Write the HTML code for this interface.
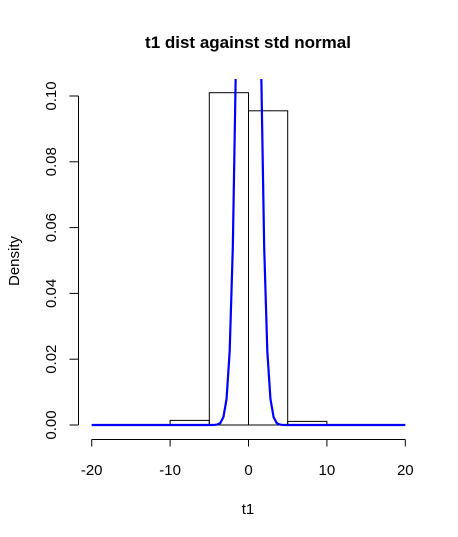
<!DOCTYPE html>
<html><head><meta charset="utf-8"><style>
body{margin:0;background:#fff}
svg{display:block;font-family:"Liberation Sans",Arial,sans-serif}
</style></head><body>
<svg width="458" height="537" viewBox="0 0 458 537">
<defs><clipPath id="pr"><rect x="79" y="79" width="339" height="360"/></clipPath></defs>
<text x="248" y="48" text-anchor="middle" font-size="17" font-weight="bold">t1 dist against std normal</text>
<g id="axes"></g>
<g id="bars"></g>
<g clip-path="url(#pr)"><path id="curve" fill="none" stroke="#0000ff" stroke-width="2.2"/></g>
<text x="248" y="514" text-anchor="middle" font-size="15">t1</text>
<text transform="translate(19,261) rotate(-90)" text-anchor="middle" font-size="15">Density</text>
</svg>
<script>
const binEdges=[-20,-15,-10,-5,0,5,10,15,20];
const densities=[0,0,0.0014,0.101,0.0955,0.0011,0,0];
const xTicks=[-20,-10,0,10,20];
const yTicks=[0,0.02,0.04,0.06,0.08,0.10];
const yTickLabels=["0.00","0.02","0.04","0.06","0.08","0.10"];
const NS="http://www.w3.org/2000/svg";
const xs=v=>248.5+v*7.84, ys=v=>425-v*3290;
function mk(t,a,p){const e=document.createElementNS(NS,t);for(const k in a)e.setAttribute(k,a[k]);p.appendChild(e);return e;}
const bars=document.getElementById('bars'), axes=document.getElementById('axes');
for(let i=0;i<densities.length;i++){
 if(densities[i]<=0)continue;
 const x0=xs(binEdges[i]),x1=xs(binEdges[i+1]),y=ys(densities[i]);
 const r=mk('rect',{x:x0,y:y,width:x1-x0,height:ys(0)-y,fill:'none',stroke:'#000','stroke-width':1},bars);
 
 
}
const bl=mk('line',{x1:xs(-20),x2:xs(20),y1:425,y2:425,stroke:'#000'},bars);


const xa=mk('line',{x1:xs(xTicks[0]),x2:xs(xTicks[xTicks.length-1]),y1:439.5,y2:439.5,stroke:'#000'},axes);


xTicks.forEach(v=>{mk('line',{x1:xs(v),x2:xs(v),y1:439.5,y2:446.5,stroke:'#000'},axes);
 const t=mk('text',{x:xs(v),y:475,'text-anchor':'middle','font-size':15},axes);t.textContent=v;
 
 });
const ya=mk('line',{x1:78.5,x2:78.5,y1:ys(yTicks[0]),y2:ys(yTicks[yTicks.length-1]),stroke:'#000'},axes);


yTicks.forEach((v,i)=>{mk('line',{x1:69.5,x2:78.5,y1:ys(v),y2:ys(v),stroke:'#000'},axes);
 const t=mk('text',{transform:`translate(56,${ys(v)}) rotate(-90)`,'text-anchor':'middle','font-size':15},axes);t.textContent=yTickLabels[i];
 
 });
const dnorm=x=>Math.exp(-x*x/2)/Math.sqrt(2*Math.PI);
let d='';for(let i=0;i<=100;i++){const x=-20+40*i/100;d+=(i?'L':'M')+xs(x).toFixed(2)+','+ys(dnorm(x)).toFixed(2);}
document.getElementById('curve').setAttribute('d',d);
</script>
</body></html>
